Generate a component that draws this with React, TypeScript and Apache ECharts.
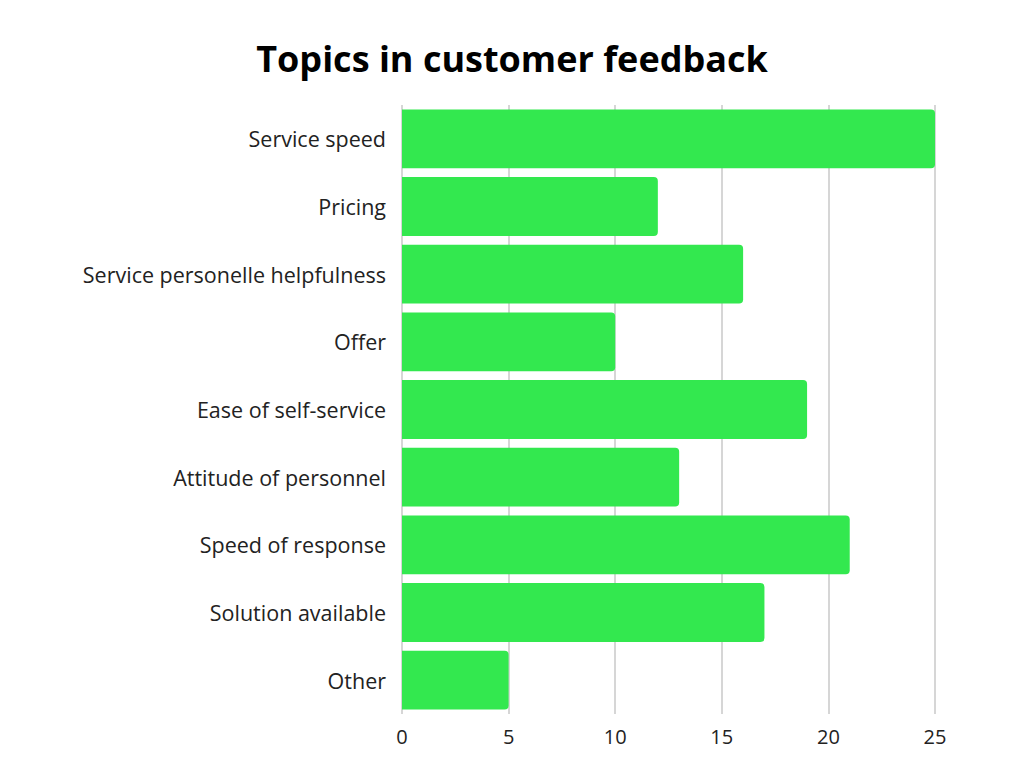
import { useEffect, useRef } from 'react'
import * as echarts from 'echarts'

const categories = [
  'Service speed',
  'Pricing',
  'Service personelle helpfulness',
  'Offer',
  'Ease of self-service',
  'Attitude of personnel',
  'Speed of response',
  'Solution available',
  'Other',
]
const values = [25, 12, 16, 10, 19, 13, 21, 17, 5]

export default function App() {
  const ref = useRef<HTMLDivElement>(null)

  useEffect(() => {
    if (!ref.current) return
    const chart = echarts.init(ref.current, undefined, { renderer: 'svg' })
    const font = '"Open Sans", sans-serif'
    chart.setOption({
      animation: false,
      title: {
        text: 'Topics in customer feedback',
        left: 'center',
        top: 27,
        textStyle: { fontFamily: font, fontWeight: 'bold', fontSize: 36, color: '#000' },
      },
      grid: { left: 394, right: 81, top: 97, bottom: 46 },
      xAxis: {
        type: 'value',
        min: 0,
        max: 25,
        interval: 5,
        axisLine: { show: false },
        axisTick: { show: false },
        splitLine: { lineStyle: { color: '#c8c8c8', width: 1.5 } },
        axisLabel: { fontFamily: font, fontSize: 20, color: '#222', margin: 12 },
      },
      yAxis: {
        type: 'category',
        inverse: true,
        data: categories,
        axisLine: { show: false },
        axisTick: { show: false },
        axisLabel: { fontFamily: font, fontSize: 21.5, color: '#222', margin: 16 },
      },
      series: [
        {
          type: 'bar',
          data: values,
          barCategoryGap: '13%',
          itemStyle: { color: '#33E84F', borderRadius: [0, 4, 4, 0] },
        },
      ],
    })
    return () => chart.dispose()
  }, [])

  return <div ref={ref} style={{ width: 1008, height: 752 }} />
}
